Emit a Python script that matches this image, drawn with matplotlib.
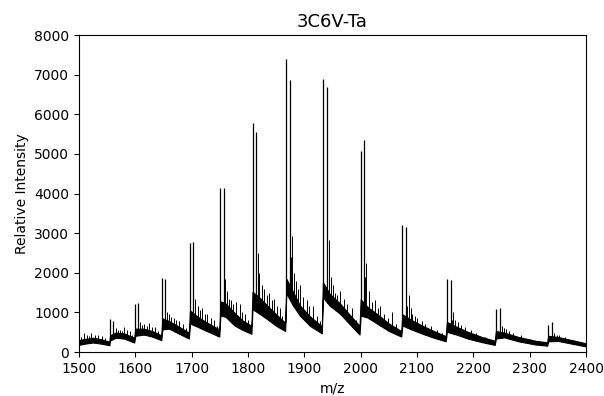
import numpy as np
import matplotlib
matplotlib.use('Agg')
import matplotlib.pyplot as plt

# Main doublet peaks of each cluster (m/z, intensity)
peak_mz = [1555, 1561, 1600, 1605, 1648, 1653, 1697, 1703, 1751, 1757,
           1808, 1814, 1868, 1874, 1933, 1940, 2000, 2006, 2074, 2081,
           2153, 2160, 2240, 2247, 2333, 2340]
peak_int = [840, 790, 1210, 1230, 1860, 1850, 2760, 2775, 4130, 4130,
            5790, 5560, 7400, 6870, 6880, 6700, 5070, 5340, 3195, 3145,
            1835, 1810, 1080, 1120, 675, 750]

# Smaller spikes riding on the noise band
spike_mz = [1504, 1508, 1514, 1518, 1522, 1528, 1533, 1540, 1546,
            1566, 1569, 1572, 1576, 1580, 1585, 1590, 1594,
            1608, 1612, 1615, 1620, 1625, 1630, 1635, 1641,
            1656, 1660, 1664, 1668, 1672, 1678, 1684, 1690,
            1706, 1711, 1714, 1718, 1723, 1728, 1734, 1740, 1745,
            1759, 1762, 1766, 1770, 1774, 1778, 1785, 1790, 1795, 1800,
            1817, 1820, 1824, 1828, 1833, 1838, 1842, 1846, 1851, 1856, 1861,
            1876, 1878, 1882, 1885, 1889, 1892, 1898, 1904, 1909, 1915, 1922, 1927,
            1941, 1944, 1947, 1950, 1954, 1958, 1963, 1970, 1975, 1985, 1992,
            2008, 2010, 2015, 2020, 2025, 2030, 2035, 2042, 2048, 2055, 2063,
            2083, 2085, 2089, 2092, 2096, 2100, 2108, 2115, 2124, 2135, 2144,
            2162, 2164, 2168, 2172, 2178, 2185, 2195, 2205, 2220,
            2250, 2254, 2258, 2264, 2270, 2285, 2300,
            2344, 2348, 2352, 2362]
spike_int = [380, 480, 430, 400, 470, 420, 430, 400, 350,
             600, 560, 560, 540, 620, 560, 520, 440,
             750, 680, 700, 650, 720, 630, 620, 520,
             1000, 950, 880, 850, 800, 780, 700, 600,
             1350, 1150, 1050, 1100, 950, 950, 850, 800, 650,
             1850, 1550, 1350, 1300, 1200, 1250, 1200, 1000, 950, 800,
             2500, 2000, 1700, 1600, 1450, 1500, 1300, 1350, 1150, 1100, 900,
             2400, 2930, 2000, 1800, 1600, 1690, 1400, 1310, 1150, 1150, 900, 780,
             2300, 2825, 1900, 1700, 1500, 1450, 1545, 1350, 1200, 1100, 800,
             1900, 2250, 1550, 1250, 1300, 1100, 1150, 950, 850, 1000, 700,
             1150, 1450, 1100, 950, 900, 850, 780, 700, 650, 560, 480,
             800, 1000, 820, 750, 680, 620, 560, 480, 380,
             650, 600, 580, 520, 480, 420, 330,
             480, 440, 430, 380]

# Noise band envelope (m/z, lower, upper), with jumps at each cluster
band_mz = [1500, 1510, 1525, 1540, 1554,
           1555, 1565, 1580, 1598,
           1600, 1615, 1630, 1646,
           1648, 1660, 1675, 1695,
           1697, 1710, 1725, 1749,
           1751, 1760, 1776, 1790, 1806,
           1808, 1820, 1835, 1850, 1866,
           1868, 1880, 1892, 1910, 1931,
           1933, 1945, 1963, 1980, 1998,
           2000, 2012, 2030, 2050, 2072,
           2074, 2090, 2110, 2130, 2151,
           2153, 2170, 2190, 2215, 2238,
           2240, 2255, 2280, 2310, 2331,
           2333, 2350, 2375, 2400]
band_low = [180, 210, 240, 210, 170,
            290, 360, 340, 240,
            410, 440, 390, 300,
            570, 590, 480, 340,
            720, 640, 540, 390,
            920, 890, 670, 560, 460,
            1080, 970, 820, 660, 530,
            1480, 1170, 920, 660, 470,
            1380, 1170, 970, 710, 440,
            920, 870, 710, 530, 390,
            670, 570, 460, 360, 270,
            510, 440, 340, 250, 180,
            340, 370, 270, 190, 160,
            270, 280, 210, 140]
band_high = [300, 330, 360, 320, 260,
             420, 490, 470, 360,
             590, 590, 530, 420,
             850, 780, 660, 490,
             1050, 900, 760, 570,
             1280, 1230, 990, 800, 660,
             1520, 1380, 1160, 950, 740,
             1850, 1520, 1180, 900, 650,
             1760, 1470, 1230, 950, 660,
             1330, 1140, 950, 720, 530,
             950, 810, 660, 530, 400,
             760, 640, 510, 380, 285,
             530, 490, 380, 285, 245,
             410, 380, 300, 220]

fig = plt.figure(figsize=(6.04, 3.96), dpi=100)
ax = fig.add_axes([0.1308, 0.1111, 0.8394, 0.8005])

ax.fill_between(band_mz, band_low, band_high, color='black', lw=0.8)
ax.vlines(peak_mz, np.interp(peak_mz, band_mz, band_low), peak_int,
          color='black', lw=0.9)
ax.vlines(spike_mz, np.interp(spike_mz, band_mz, band_low), spike_int,
          color='black', lw=0.7)

ax.set_xlim(1500, 2400)
ax.set_ylim(0, 8000)
ax.set_xticks(np.arange(1500, 2401, 100))
ax.set_yticks(np.arange(0, 8001, 1000))
ax.set_title('3C6V-Ta', fontsize=13)
ax.set_xlabel('m/z')
ax.set_ylabel('Relative Intensity')

fig.savefig('out.png', dpi=100)
